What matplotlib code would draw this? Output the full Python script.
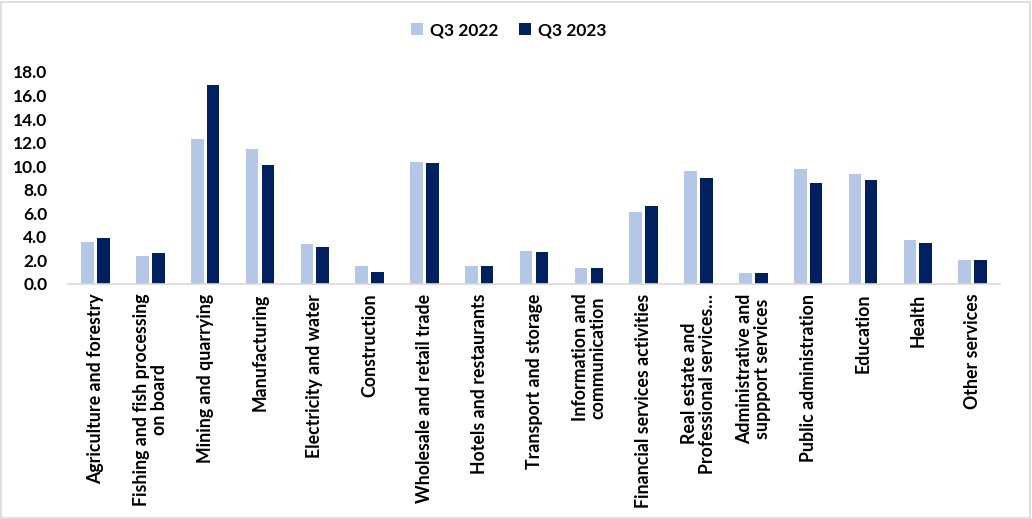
import matplotlib
matplotlib.use("Agg")
import matplotlib.pyplot as plt
import numpy as np
from matplotlib.patches import Rectangle

# Dados
setores = [
    "Agriculture and forestry",
    "Fishing and fish processing\non board",
    "Mining and quarrying",
    "Manufacturing",
    "Electricity and water",
    "Construction",
    "Wholesale and retail trade",
    "Hotels and restaurants",
    "Transport and storage",
    "Information and\ncommunication",
    "Financial services activities",
    "Real estate and\nProfessional services\u2026",
    "Administrative and\nsuppport services",
    "Public administration",
    "Education",
    "Health",
    "Other services",
]
q3_2022 = [3.6, 2.4, 12.3, 11.5, 3.4, 1.5, 10.4, 1.5, 2.8, 1.4, 6.1, 9.6, 0.9, 9.8, 9.3, 3.7, 2.0]
q3_2023 = [3.9, 2.6, 16.9, 10.1, 3.1, 1.0, 10.3, 1.5, 2.7, 1.4, 6.6, 9.0, 0.9, 8.6, 8.8, 3.5, 2.0]
rotulos_y = ["0.0", "2.0", "4.0", "6.0", "8.0", "10.0", "12.0", "14.0", "16.0", "18.0"]

cor_2022 = "#b4c7e7"
cor_2023 = "#002060"

plt.rcParams["font.family"] = ["Lato", "DejaVu Sans"]
plt.rcParams["font.weight"] = "bold"

fig = plt.figure(figsize=(10.32, 5.19), dpi=100)
ax = fig.add_axes([0.066, 0.4528, 0.903, 0.4085])

x = np.arange(len(setores))
larg = 0.23
ax.bar(x - larg / 2 - 0.03, q3_2022, width=larg, color=cor_2022, label="Q3 2022")
ax.bar(x + larg / 2 + 0.03, q3_2023, width=larg, color=cor_2023, label="Q3 2023")

ax.set_xlim(-0.5, len(setores) - 0.5)
ax.set_ylim(0, 18)
ax.set_yticks(np.arange(0, 18.1, 2))
ax.set_yticklabels(rotulos_y, fontsize=12.5, fontweight="bold")
ax.set_xticks(x)
ax.set_xticklabels(setores, rotation=90, fontsize=12.8, fontweight="bold",
                   ha="center", va="top", multialignment="center",
                   linespacing=1.05)
ax.tick_params(axis="both", length=0)
ax.tick_params(axis="y", pad=15)
ax.tick_params(axis="x", pad=7)

for lado in ["top", "right", "left"]:
    ax.spines[lado].set_visible(False)
ax.spines["bottom"].set_color("#d9d9d9")
ax.spines["bottom"].set_linewidth(1.2)

fig.legend(loc="center", bbox_to_anchor=(0.493, 0.942), ncol=2, frameon=False,
           prop={"size": 12.5, "weight": "bold"}, handlelength=0.7, handleheight=0.7,
           handletextpad=0.4, columnspacing=1.2)

# borda da figura
fig.patches.append(Rectangle((0.001, 0.002), 0.997, 0.995, transform=fig.transFigure,
                             fill=False, edgecolor="#d9d9d9", linewidth=1.2))

fig.savefig("out.png", dpi=100)
